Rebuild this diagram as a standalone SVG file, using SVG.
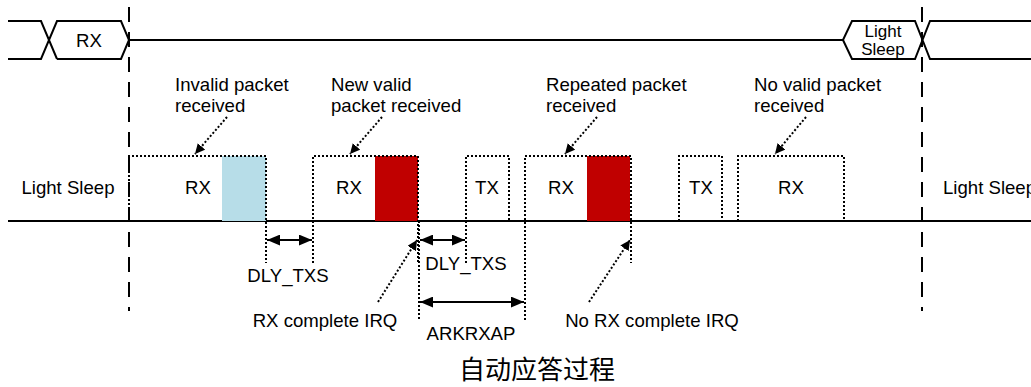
<svg xmlns="http://www.w3.org/2000/svg" width="1031" height="387" viewBox="0 0 1031 387">
<style>
.t{font-family:"Liberation Sans",Arial,sans-serif;font-size:18.6px;fill:#000}
.c{text-anchor:middle}
.ln{stroke:#000;stroke-width:2;fill:none}
.dash{stroke:#000;stroke-width:2;fill:none;stroke-dasharray:15 10}
.dot{stroke:#000;stroke-width:2;fill:none;stroke-dasharray:2 2}
.cjk{font-family:"Noto Sans CJK SC","Noto Sans CJK JP",sans-serif;font-size:26px;fill:#000;text-anchor:middle}
</style>
<defs>
<marker id="ah" viewBox="0 0 10 10" refX="10" refY="5" markerWidth="10" markerHeight="10" markerUnits="userSpaceOnUse" orient="auto-start-reverse">
<path d="M0,0 L10,5 L0,10 z" fill="#000"/>
</marker>
<marker id="ah2" viewBox="0 0 12 10" refX="12" refY="5" markerWidth="13" markerHeight="11" markerUnits="userSpaceOnUse" orient="auto-start-reverse">
<path d="M0,0 L12,5 L0,10 z" fill="#000"/>
</marker>
</defs>
<rect width="1031" height="387" fill="#fff"/>

<g id="bus">
<path class="ln" d="M8,21 H41 L57,59 M8,59 H41 L57,21 H121 L129,40 L121,59 H57"/>
<path class="ln" d="M129,40 H843 L852,21 H915 L930,59 H1031 M843,40 L852,59 H915 L930,21 H1031"/>
<text class="t c" x="89" y="47">RX</text>
<text class="t c" x="883" y="37" style="font-size:17px">Light</text>
<text class="t c" x="883" y="55" style="font-size:17px">Sleep</text>
</g>

<g id="markers">
<line class="dash" x1="129" y1="7" x2="129" y2="311"/>
<line class="dash" x1="922" y1="7" x2="922" y2="311"/>
</g>

<g id="baseline">
<line class="ln" x1="8" y1="221" x2="1031" y2="221"/>
</g>

<g id="sleep-left"><text class="t c" x="68" y="194">Light Sleep</text></g>
<g id="sleep-right"><text class="t" x="943" y="194">Light Sleep</text></g>

<g id="rx1">
<rect x="222" y="156" width="44" height="65" fill="#b7dde8"/>
<path class="dot" d="M129,221 V156 H266 V263"/>
<text class="t c" x="198" y="194">RX</text>
</g>
<g id="rx2">
<rect x="375" y="156" width="43" height="65" fill="#c00000"/>
<path class="dot" d="M313,263 V156 H418 V263"/>
<text class="t c" x="349" y="194">RX</text>
</g>
<g id="tx1">
<path class="dot" d="M466,263 V156 H509 V221"/>
<text class="t c" x="487" y="194">TX</text>
</g>
<g id="rx3">
<rect x="587" y="156" width="43" height="65" fill="#c00000"/>
<path class="dot" d="M525,320 V156 H631 V263"/>
<text class="t c" x="561" y="194">RX</text>
</g>
<g id="tx2">
<path class="dot" d="M679,221 V156 H722 V221"/>
<text class="t c" x="701" y="194">TX</text>
</g>
<g id="rx4">
<path class="dot" d="M738,221 V156 H844 V221"/>
<text class="t c" x="791" y="194">RX</text>
</g>
<g id="irqline">
<line class="dot" x1="419" y1="221" x2="419" y2="320"/>
</g>

<g id="labels">
<text class="t" x="175" y="91">Invalid packet</text>
<text class="t" x="175" y="112">received</text>
<text class="t" x="331" y="91">New valid</text>
<text class="t" x="331" y="112">packet received</text>
<text class="t" x="546" y="91">Repeated packet</text>
<text class="t" x="546" y="112">received</text>
<text class="t" x="754" y="91">No valid packet</text>
<text class="t" x="754" y="112">received</text>
<text class="t c" x="288" y="282">DLY_TXS</text>
<text class="t c" x="466" y="270">DLY_TXS</text>
<text class="t c" x="471" y="340">ARKRXAP</text>
<text class="t c" x="325" y="327">RX complete IRQ</text>
<text class="t c" x="652" y="327">No RX complete IRQ</text>
<text class="cjk" x="537" y="379">自动应答过程</text>
</g>

<g id="connectors">
<line class="dot" x1="227" y1="117" x2="195" y2="154" marker-end="url(#ah)"/>
<line class="dot" x1="382" y1="117" x2="350" y2="154" marker-end="url(#ah)"/>
<line class="dot" x1="597" y1="117" x2="565" y2="154" marker-end="url(#ah)"/>
<line class="dot" x1="806" y1="117" x2="775" y2="154" marker-end="url(#ah)"/>
<line class="dot" x1="378" y1="302" x2="417" y2="240" marker-end="url(#ah)"/>
<line class="dot" x1="589" y1="302" x2="630" y2="240" marker-end="url(#ah)"/>
<line class="ln" x1="267" y1="240" x2="312" y2="240" marker-start="url(#ah2)" marker-end="url(#ah2)"/>
<line class="ln" x1="420" y1="240" x2="465" y2="240" marker-start="url(#ah2)" marker-end="url(#ah2)"/>
<line class="ln" x1="420" y1="302" x2="524" y2="302" marker-start="url(#ah2)" marker-end="url(#ah2)"/>
</g>
</svg>
